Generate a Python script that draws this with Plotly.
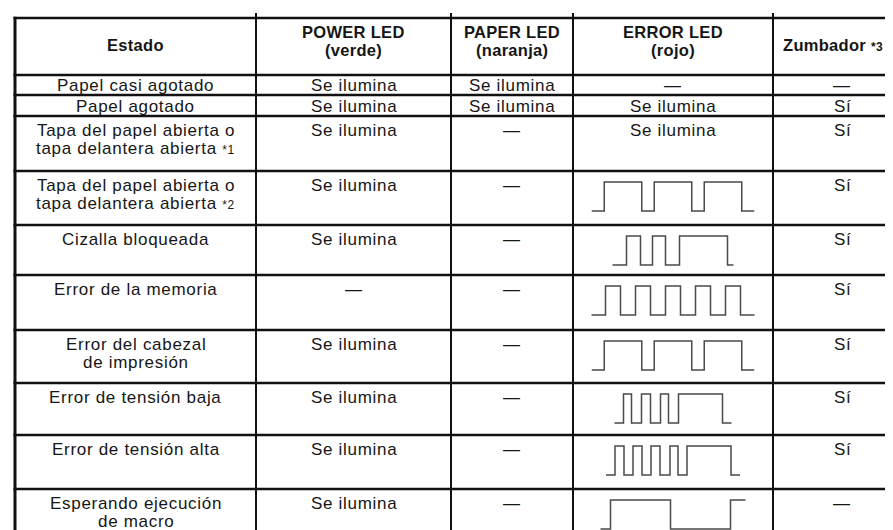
import plotly.graph_objects as go

# ---------------- data ----------------
headers = ["Estado", "POWER LED<br>(verde)", "PAPER LED<br>(naranja)", "ERROR LED<br>(rojo)",
           "Zumbador <span style='font-size:12px'>*3</span>"]
estados = [
    "Papel casi agotado",
    "Papel agotado",
    "Tapa del papel abierta o<br>tapa delantera abierta <span style='font-size:12px'>*1</span>",
    "Tapa del papel abierta o<br>tapa delantera abierta <span style='font-size:12px'>*2</span>",
    "Cizalla bloqueada",
    "Error de la memoria",
    "Error del cabezal<br>de impresión",
    "Error de tensión baja",
    "Error de tensión alta",
    "Esperando ejecución<br>de macro",
]
power_led = ["Se ilumina", "Se ilumina", "Se ilumina", "Se ilumina", "Se ilumina",
             "—", "Se ilumina", "Se ilumina", "Se ilumina", "Se ilumina"]
paper_led = ["Se ilumina", "Se ilumina", "—", "—", "—", "—", "—", "—", "—", "—"]
error_led = ["—", "Se ilumina", "Se ilumina", None, None, None, None, None, None, None]
zumbador = ["—", "Sí", "Sí", "Sí", "Sí", "Sí", "Sí", "Sí", "Sí", "—"]

# blink patterns: segment durations, starting at low level, alternating low/high
wave_tapa2 = [12.5, 37.5, 12.5, 37.5, 12.5, 37.5, 12.5]
wave_cizalla = [14, 14, 12, 13, 14, 48, 6]
wave_memoria = [14, 15, 15, 15, 15, 15, 15, 15, 15, 15, 14]
wave_cabezal = [12.5, 37.5, 12.5, 37.5, 12.5, 37.5, 12.5]
wave_baja = [9, 8, 10, 9, 10, 8, 10, 44, 9]
wave_alta = [9, 9, 9, 9, 9, 9, 10, 8, 9, 44, 9]
wave_macro = [10, 60, 60, 15]
waves = {3: wave_tapa2, 4: wave_cizalla, 5: wave_memoria, 6: wave_cabezal,
         7: wave_baja, 8: wave_alta, 9: wave_macro}

# ---------------- layout geometry (pixels) ----------------
W, H = 893, 530
col_edges = [7, 248, 443, 565, 765, 903]
row_edges = [10, 67, 87, 108, 163, 217, 267, 322, 375, 427, 481, 534]

fig = go.Figure()
shapes = []
LINE = "#111111"
for i, y in enumerate(row_edges[:-1]):
    shapes.append(dict(type="line", x0=col_edges[0] - 1.5, x1=W + 10, y0=y, y1=y,
                       xref="x", yref="y", line=dict(color=LINE, width=2.6)))
for j, x in enumerate(col_edges[:-1]):
    shapes.append(dict(type="line", x0=x, x1=x, y0=(row_edges[0] - 1.3 if j == 0 else 5),
                       y1=H + 5, xref="x", yref="y",
                       line=dict(color=LINE, width=3 if j == 0 else 2)))

annotations = []
FONT = "Liberation Sans, Arial, Helvetica, sans-serif"
TXT = "#161616"
SIZE = 17
HEAD_SIZE = 16.5
LS_BODY = 0.7
LS_HEAD = 0.3
LINE_GAP = 17.5


def add_line(xc, y, text, bold=False, anchor="center"):
    ls = LS_HEAD if bold else LS_BODY
    t = f"<span style='letter-spacing:{ls}px'>{text}</span>"
    if bold:
        t = f"<b>{t}</b>"
    annotations.append(dict(x=xc, y=y, xref="x", yref="y", text=t, showarrow=False,
                            xanchor=anchor, yanchor="middle",
                            font=dict(family=FONT, size=HEAD_SIZE if bold else SIZE, color=TXT)))


def cell_text(col, row_top, row_h, text, header=False):
    xc = (col_edges[col] + col_edges[col + 1]) / 2
    lines = text.split("<br>")
    if header:
        if col == len(col_edges) - 2:
            # last column runs past the picture edge: start the text at the cell's left pad
            add_line(col_edges[col] + 8, 37, lines[0], bold=True, anchor="left")
        elif len(lines) == 1:
            add_line(xc, 37, lines[0], bold=True)
        else:
            for i, ln in enumerate(lines):
                add_line(xc, 24 + i * LINE_GAP, ln, bold=True)
        return
    if row_h < 30:
        add_line(xc, row_top + row_h / 2 + 0.5, lines[0])
    else:
        for i, ln in enumerate(lines):
            add_line(xc, row_top + 14.5 + i * LINE_GAP, ln)


for c, h in enumerate(headers):
    cell_text(c, row_edges[0], row_edges[1] - row_edges[0], h, header=True)

for r in range(len(estados)):
    top = row_edges[r + 1]
    rh = row_edges[r + 2] - top
    cell_text(0, top, rh, estados[r])
    cell_text(1, top, rh, power_led[r])
    cell_text(2, top, rh, paper_led[r])
    if error_led[r] is not None:
        cell_text(3, top, rh, error_led[r])
    cell_text(4, top, rh, zumbador[r])

# waveforms
xc_err = (col_edges[3] + col_edges[4]) / 2
for r, durs in waves.items():
    top = row_edges[r + 1]
    y_hi, y_lo = top + 11, top + 40
    x = xc_err - sum(durs) / 2
    pts_x, pts_y = [], []
    for k, d in enumerate(durs):
        yv = y_lo if k % 2 == 0 else y_hi
        pts_x += [x, x + d]
        pts_y += [yv, yv]
        x += d
    fig.add_trace(go.Scatter(x=pts_x, y=pts_y, mode="lines",
                             line=dict(color="#4a4a4a", width=1.5),
                             hoverinfo="skip", showlegend=False))

fig.update_layout(
    width=W, height=H, margin=dict(l=0, r=0, t=0, b=0),
    paper_bgcolor="white", plot_bgcolor="white",
    xaxis=dict(range=[0, W], visible=False, fixedrange=True),
    yaxis=dict(range=[H, 0], visible=False, fixedrange=True),
    shapes=shapes, annotations=annotations, showlegend=False,
)
fig.write_html("out.html")
